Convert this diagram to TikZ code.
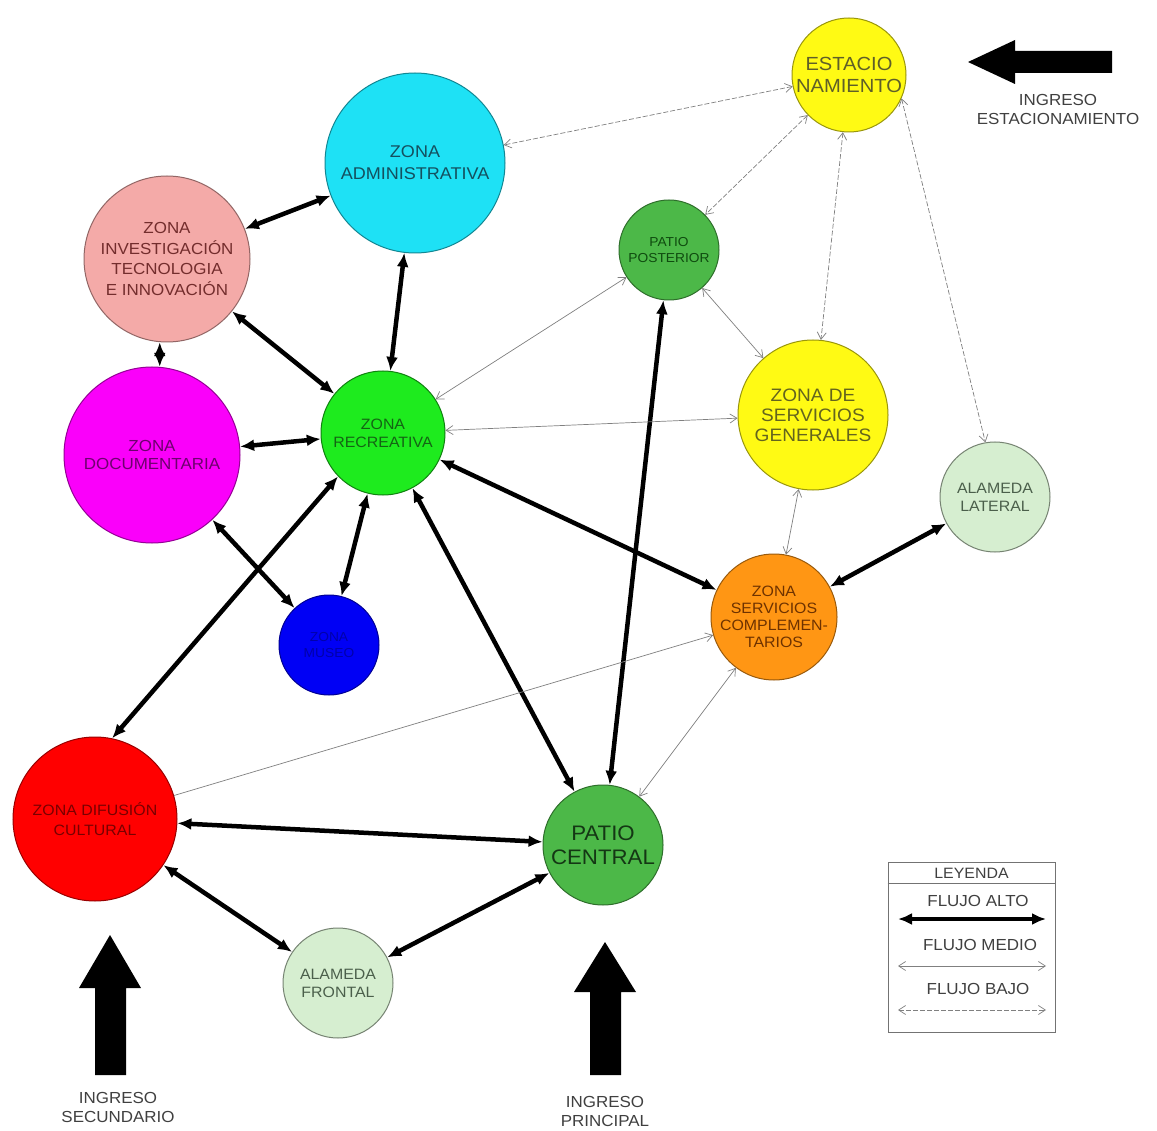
\documentclass[tikz,border=0pt]{standalone}
\usepackage{fontspec}
\setmainfont{Liberation Sans}[FakeStretch=1.06]
\usetikzlibrary{arrows.meta}
\definecolor{cyel}{RGB}{255,250,20}
\definecolor{ccyan}{RGB}{30,225,245}
\definecolor{cpink}{RGB}{244,170,168}
\definecolor{cgreen}{RGB}{76,184,72}
\definecolor{cmag}{RGB}{250,0,250}
\definecolor{cbright}{RGB}{30,235,30}
\definecolor{clight}{RGB}{214,238,208}
\definecolor{cblue}{RGB}{0,0,245}
\definecolor{corange}{RGB}{255,150,20}
\definecolor{cred}{RGB}{255,0,0}
\tikzset{
  zone/.style={circle, inner sep=0pt, align=center, line width=1pt},
  fs/.style 2 args={font=\fontsize{#1}{#2}\selectfont},
  alto/.style={line width=4.5pt, black, {Latex[length=14pt,width=12pt]}-{Latex[length=14pt,width=12pt]}},
  medio/.style={line width=0.7pt, black!50, {Straight Barb[length=7pt,width=9pt]}-{Straight Barb[length=7pt,width=9pt]}},
  bajo/.style={line width=0.7pt, black!50, dash pattern=on 5pt off 2pt, {Straight Barb[length=7pt,width=9pt]}-{Straight Barb[length=7pt,width=9pt]}},
  lbl/.style={align=center, font=\fontsize{16}{19}\selectfont, text=black!75},
  bigarrow/.style={fill=black}
}
\begin{document}
\begin{tikzpicture}[x=1pt,y=-1pt]
\fill[white] (0,0) rectangle (1157,1131);
\useasboundingbox (0,0) rectangle (1157,1131);

% nodes
\node[zone, minimum size=114pt, fill=cyel, draw=cyel!60!black, text={rgb,255:red,95;green,95;blue,40}, fs={19}{22}] (est) at (849,75) {ESTACIO\\NAMIENTO};
\node[zone, minimum size=180pt, fill=ccyan, draw=ccyan!60!black, text={rgb,255:red,20;green,80;blue,95}, fs={17}{22}] (adm) at (415,163) {ZONA\\ADMINISTRATIVA};
\node[zone, minimum size=166pt, fill=cpink, draw=cpink!60!black, text={rgb,255:red,115;green,45;blue,45}, fs={16}{20.5}] (inv) at (167,259) {ZONA\\INVESTIGACIÓN\\TECNOLOGIA\\E INNOVACIÓN};
\node[zone, minimum size=100pt, fill=cgreen, draw=cgreen!60!black, text={rgb,255:red,15;green,75;blue,15}, fs={13}{16}] (pp) at (669,250) {PATIO\\POSTERIOR};
\node[zone, minimum size=176pt, fill=cmag, draw=cmag!60!black, text={rgb,255:red,110;green,0;blue,110}, fs={16}{18}] (doc) at (152,455) {ZONA\\DOCUMENTARIA};
\node[zone, minimum size=124pt, fill=cbright, draw=cbright!55!black, text={rgb,255:red,20;green,100;blue,20}, fs={15}{18}] (rec) at (383,433) {ZONA\\RECREATIVA};
\node[zone, minimum size=150pt, fill=cyel, draw=cyel!60!black, text={rgb,255:red,100;green,100;blue,30}, fs={18}{20}] (sg) at (813,415) {ZONA DE\\SERVICIOS\\GENERALES};
\node[zone, minimum size=110pt, fill=clight, draw=clight!55!black, text={rgb,255:red,75;green,95;blue,75}, fs={15}{18}] (al) at (995,497) {ALAMEDA\\LATERAL};
\node[zone, minimum size=100pt, fill=cblue, draw=cblue!60!black, text={rgb,255:red,0;green,0;blue,170}, fs={13}{16}] (blu) at (329,645) {ZONA\\MUSEO};
\node[zone, minimum size=126pt, fill=corange, draw=corange!60!black, text={rgb,255:red,110;green,50;blue,0}, fs={15}{17}] (sc) at (774,617) {ZONA\\SERVICIOS\\COMPLEMEN-\\TARIOS};
\node[zone, minimum size=164pt, fill=cred, draw=cred!60!black, text={rgb,255:red,120;green,0;blue,0}, fs={15}{20}] (dif) at (95,819) {ZONA DIFUSIÓN\\CULTURAL};
\node[zone, minimum size=120pt, fill=cgreen, draw=cgreen!60!black, text={rgb,255:red,20;green,55;blue,20}, fs={21}{24}] (pc) at (603,845) {PATIO\\CENTRAL};
\node[zone, minimum size=110pt, fill=clight, draw=clight!55!black, text={rgb,255:red,75;green,95;blue,75}, fs={15}{18}] (af) at (338,983) {ALAMEDA\\FRONTAL};

% flujo alto
\draw[alto] (inv) -- (adm);
\draw[alto] (inv.-95) -- (doc.85);
\draw[alto] (inv) -- (rec);
\draw[alto] (adm) -- (rec);
\draw[alto] (doc) -- (rec);
\draw[alto] (doc) -- (blu);
\draw[alto] (rec) -- (blu);
\draw[alto] (rec.224) -- (dif.78);
\draw[alto] (rec) -- (pc);
\draw[alto] (rec) -- (sc);
\draw[alto] (pp) -- (pc);
\draw[alto] (al) -- (sc);
\draw[alto] (dif) -- (pc);
\draw[alto] (dif) -- (af);
\draw[alto] (af) -- (pc);

% flujo medio
\draw[medio] (pp) -- (rec);
\draw[medio] (rec) -- (sg);
\draw[medio, -{Straight Barb[length=7pt,width=9pt]}] (dif) -- (sc);
\draw[medio] (sc) -- (pc);
\draw[medio] (sg) -- (sc);
\draw[medio] (pp) -- (sg);

% flujo bajo
\draw[bajo] (est) -- (adm);
\draw[bajo] (est) -- (pp);
\draw[bajo] (est) -- (sg);
\draw[bajo] (est.-24) -- (al.100);

% big entrance arrows
\fill[bigarrow] (110,935) -- (141,988) -- (126,988) -- (126,1075) -- (95,1075) -- (95,988) -- (79,988) -- cycle;
\fill[bigarrow] (605,942) -- (636,992) -- (621,992) -- (621,1075) -- (590,1075) -- (590,992) -- (574,992) -- cycle;
\fill[bigarrow] (968,62) -- (1015,40) -- (1015,51) -- (1112,51) -- (1112,73) -- (1015,73) -- (1015,84) -- cycle;
\node[lbl] (t1) at (118,1107) {INGRESO\\SECUNDARIO};
\node[lbl] (t2) at (605,1111) {INGRESO\\PRINCIPAL};
\node[lbl] (t3) at (1058,109) {INGRESO\\ESTACIONAMIENTO};

% legend
\node[draw=black!55, line width=0.8pt, minimum width=167pt, minimum height=170pt, inner sep=0pt] (leg) at (971.5,947) {};
\draw[black!55, line width=0.8pt] (leg.west |- 0,883) coordinate (lh1) -- (leg.east |- 0,883) coordinate (lh2);
\node[lbl, font=\fontsize{15}{17}\selectfont] (lt) at (971.5,873) {LEYENDA};
\node[lbl] (l1) at (978,901) {FLUJO ALTO};
\node[lbl] (l2) at (980,945) {FLUJO MEDIO};
\node[lbl] (l3) at (978,989) {FLUJO BAJO};
\coordinate (a1) at (898,919); \coordinate (b1) at (1046,919);
\coordinate (a2) at (898,966); \coordinate (b2) at (1046,966);
\coordinate (a3) at (898,1010); \coordinate (b3) at (1046,1010);
\draw[alto, line width=3.5pt] (a1) -- (b1);
\draw[medio] (a2) -- (b2);
\draw[bajo] (a3) -- (b3);
\end{tikzpicture}
\end{document}
